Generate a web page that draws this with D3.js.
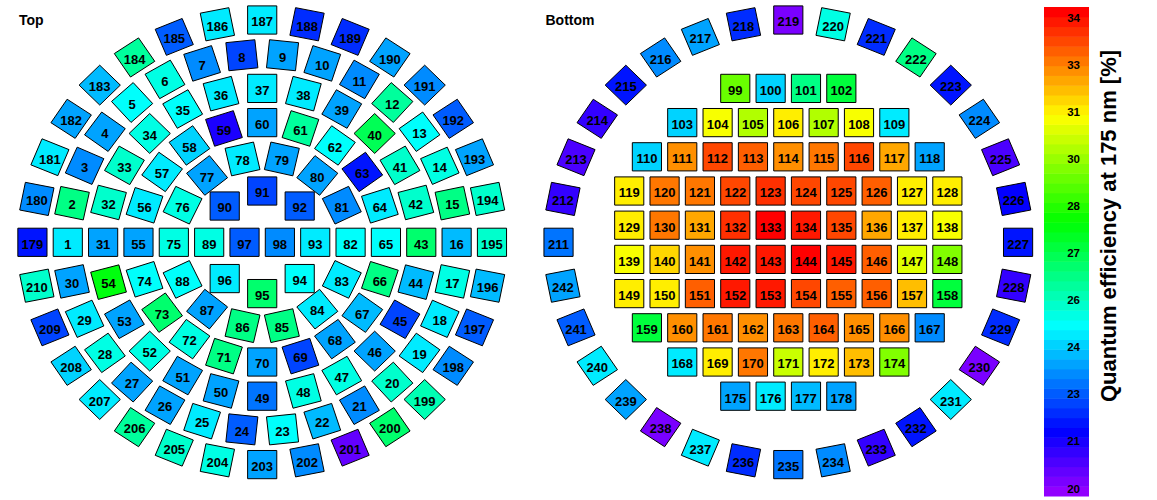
<!DOCTYPE html>
<html><head><meta charset="utf-8">
<script src="https://cdn.jsdelivr.net/npm/d3@7"></script>
<style>
body{margin:0;background:#fff}
svg{display:block}
text{font-family:"Liberation Sans",Arial,sans-serif;font-weight:bold;fill:#000}
</style>
</head><body>
<svg id="chart" width="1157" height="500"></svg>
<script>
// ---- data: quantum efficiency at 175 nm [%] per PMT ----
// top array PMTs 1..98
const qeTop = [
 24.5,26.2,23.6,23.9,24.9,25.3,23.6,22.7,23.8,23.8,
 23.5,25.9,24.9,25.2,26.4,24.0,25.3,24.6,24.6,25.4,
 23.6,24.0,25.0,22.8,24.6,23.9,23.9,25.3,24.7,23.7,
 23.7,25.5,25.5,25.2,24.8,24.6,24.6,24.7,23.9,26.8,
 25.4,25.5,26.6,24.0,22.7,23.8,25.3,25.3,23.2,23.7,
 23.7,25.2,23.9,27.6,23.9,24.6,24.7,24.4,21.5,23.9,
 26.0,25.0,22.0,24.7,24.9,26.4,24.0,23.7,22.6,23.7,
 26.4,25.2,26.6,24.8,25.3,25.3,23.8,24.6,23.9,23.8,
 23.6,24.8,24.5,24.6,26.4,26.4,23.9,24.9,25.2,23.0,
 22.7,23.0,24.6,25.0,26.6,24.6,23.0,23.6
];
// bottom array PMTs 99..178
const qeBottom = [
 29.0,24.2,26.4,27.0,
 24.2,30.9,29.9,31.1,29.9,30.9,24.6,
 24.2,32.1,33.0,32.7,32.2,32.5,33.0,32.0,23.8,
 31.1,32.4,32.4,33.0,33.3,33.1,33.0,32.7,31.1,31.1,
 31.1,32.5,32.0,33.4,33.95,33.5,33.1,32.0,31.1,30.9,
 30.9,31.4,32.2,33.5,33.7,33.8,33.5,32.7,30.5,29.4,
 31.0,31.0,32.7,33.5,33.6,33.0,32.7,32.6,31.6,27.1,
 27.1,32.1,32.5,32.3,32.4,32.6,32.3,32.3,23.6,
 24.6,31.0,32.5,30.2,31.0,31.7,29.4,
 23.8,24.6,24.0,23.8
];
// top veto ring PMTs 179..210
const qeVetoTop = [
 22.2,23.5,24.5,23.8,24.0,26.0,22.8,24.5,24.6,22.3,
 22.5,23.7,23.4,23.0,23.7,25.5,25.5,24.0,23.0,23.6,
 25.8,26.6,20.8,23.5,23.9,25.2,25.4,26.0,24.5,24.4,
 22.6,25.4
];
// bottom veto ring PMTs 211..242
const qeVetoBottom = [
 23.1,21.2,20.9,21.3,22.2,23.6,23.8,22.5,20.3,25.3,
 22.3,26.2,22.2,23.4,20.9,21.7,22.2,21.3,22.5,20.5,
 24.6,22.2,21.3,23.4,23.2,22.3,24.6,20.5,23.8,24.6,
 23.0,23.8
];
const topRingSizes = [30, 24, 20, 14, 8, 2];        // outer -> inner, numbering from 1
const topRingRotated = [true, true, true, true, false, false];
const bottomRowSizes = [4, 7, 9, 10, 10, 10, 10, 9, 7, 4];
const vetoRingSize = 32;
const cbTicks = [20, 21.4, 22.8, 24.2, 25.6, 27, 28.4, 29.8, 31.2, 32.6, 34];
const qeDomain = [20, 34];
const panelTitles = ["Top", "Bottom"];
const axisTitle = "Quantum efficiency at 175 nm [%]";

// ---- palette (ROOT pretty palette, 50 colours violet -> red) ----
const nCol = 50;
const palette = d3.range(nCol).map(i =>
  i < nCol - 1 ? d3.hsl(280 - (i + 1) * 280 / nCol, 1, 0.5).formatHex() : "#ff0000");
const color = d3.scaleQuantize().domain(qeDomain).range(palette);

const svg = d3.select("#chart");

// ---- geometry in units of PMT pitch ----
const side = 0.825;
function makeScales(cx) {
  return {
    x: d3.scaleLinear().domain([-7, 7]).range([cx - 7 * 35.35, cx + 7 * 35.35]),
    y: d3.scaleLinear().domain([-7, 7]).range([242.3 + 7 * 34.2, 242.3 - 7 * 34.2])
  };
}
const topS = makeScales(262.2);
const botS = makeScales(788.3);

function ring(n, r, firstId, values, rotated) {
  return d3.range(n).map(i => {
    const th = Math.PI - 2 * Math.PI * i / n;
    return {id: firstId + i, x: r * Math.cos(th), y: r * Math.sin(th), rot: rotated ? th : 0, v: values[i]};
  });
}

const topPmts = [];
let id = 1, off = 0;
topRingSizes.forEach((n, k) => {
  const r = topRingSizes.length - k - 0.5;
  topPmts.push(...ring(n, r, id, qeTop.slice(off, off + n), topRingRotated[k]));
  id += n; off += n;
});
topPmts.push(...ring(vetoRingSize, 6.5, 179, qeVetoTop, true));

const botPmts = [];
id = 99; off = 0;
bottomRowSizes.forEach((n, r) => {
  d3.range(n).forEach(j => {
    botPmts.push({id: id + j, x: j - (n - 1) / 2, y: (bottomRowSizes.length - 1) / 2 - r, rot: 0, v: qeBottom[off + j]});
  });
  id += n; off += n;
});
botPmts.push(...ring(vetoRingSize, 6.5, 211, qeVetoBottom, true));

function drawArray(pmts, s) {
  const g = svg.append("g");
  const h = side / 2;
  const corners = [[-h, -h], [h, -h], [h, h], [-h, h]];
  const pg = g.selectAll("g.pmt").data(pmts).join("g").attr("class", "pmt");
  pg.append("polygon")
    .attr("points", d => corners.map(([a, b]) => {
      const c = Math.cos(d.rot), sn = Math.sin(d.rot);
      return [s.x(d.x + a * c - b * sn), s.y(d.y + a * sn + b * c)].join(",");
    }).join(" "))
    .attr("fill", d => color(d.v))
    .attr("stroke", "#000").attr("stroke-width", 1);
  pg.append("text")
    .attr("x", d => s.x(d.x))
    .attr("y", d => s.y(d.y) + 6.3)
    .attr("text-anchor", "middle")
    .attr("font-size", 13)
    .text(d => d.id);
}
drawArray(topPmts, topS);
drawArray(botPmts, botS);

svg.append("text").attr("x", 19).attr("y", 24.5).attr("font-size", 14).text(panelTitles[0]);
svg.append("text").attr("x", 545.5).attr("y", 25).attr("font-size", 14).text(panelTitles[1]);

// ---- colour bar ----
const cbX0 = 1044, cbX1 = 1089;
const cbBand = d3.scaleLinear().domain([0, nCol]).range([496, 7]);
svg.append("g").selectAll("rect").data(palette).join("rect")
  .attr("x", cbX0).attr("width", cbX1 - cbX0)
  .attr("y", (d, i) => cbBand(i + 1))
  .attr("height", (d, i) => cbBand(i) - cbBand(i + 1) + 0.5)
  .attr("fill", d => d);
const cbLab = d3.scaleLinear().domain(qeDomain).range([488.3, 17.3]);
const fmt = d3.format(".0f");
svg.append("g").selectAll("text").data(cbTicks).join("text")
  .attr("x", 1080).attr("y", d => cbLab(d) + 4.2)
  .attr("text-anchor", "end").attr("font-size", 11.5)
  .text(d => fmt(d));
svg.append("text")
  .attr("transform", "translate(1116,226) rotate(-90)")
  .attr("text-anchor", "middle").attr("font-size", 22)
  .text(axisTitle);
</script>
</body></html>
